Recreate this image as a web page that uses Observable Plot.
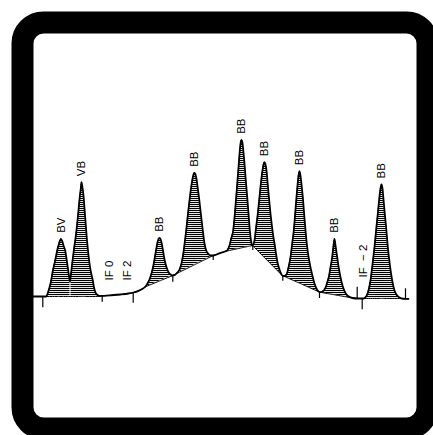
<!DOCTYPE html>
<html>
<head>
<meta charset="utf-8">
<script src="https://cdn.jsdelivr.net/npm/d3@7"></script>
<script src="https://cdn.jsdelivr.net/npm/@observablehq/plot@0.6"></script>
<style>
  html, body { margin: 0; padding: 0; background: #fff; }
  #chart svg { display: block; background: #fff; }
</style>
</head>
<body>
<div id="chart"></div>
<script>
// Retention time (s) of each detector sample, detector response, and integrator baseline
const traceTime = [
  0, 11,
  12.7, 14.5, 16, 17.5, 19, 21, 22.5, 23.7, 25, 26.3, 27.5, 28.7, 30, 31.7, 33.7, 35, 36.5,
  37.2, 38.7, 40.3, 42, 43.5, 45, 46.3, 47.3, 48, 48.8, 50, 51, 52.3, 53.5, 54.5, 56, 57.5, 59.3, 60.5, 62, 64, 66,
  68.7, 77, 87, 95, 100, 105, 109,
  111.5, 114, 116, 118, 119.5, 121, 122.5, 124, 125, 126, 127, 128, 129.5, 131, 132.5, 134, 135.5, 137.3, 139.3,
  144, 146, 148, 149.5, 151, 152.7, 154.5, 156, 157.5, 159, 160, 161, 162, 163, 164.3, 165.5, 167.3, 169.3, 171, 172.7, 174.5, 176.5, 179.7,
  186, 192,
  194, 196, 197.7, 199.7, 201.3, 202.7, 204, 205.3, 206.5, 207.3, 208, 208.8, 209.8, 211, 212.3, 213.7, 215, 216.3, 217.5, 219,
  221, 222.7, 224.3, 226, 227.7, 229, 230, 231, 232, 233, 233.9, 235.4, 237, 238.5, 239.8, 241, 242.5, 244, 245.5, 247, 248.7,
  251, 253, 255, 257, 258.7, 260.3, 261.7, 263, 264.2, 265.2, 266, 266.8, 267.9, 269.3, 270.6, 272, 273.5, 275, 276.3, 278.5, 281, 283.5, 286.3,
  288.5, 290.3, 292.5, 294, 295.3, 296.8, 298.7, 300, 301, 302, 303.7, 305.2, 307, 309, 311, 313, 315.3, 319,
  324, 329,
  330, 333, 335, 337, 339, 341, 342.7, 344.3, 345.7, 347, 348, 349, 350, 351.3, 352.8, 354.3, 356.3, 358.7, 361, 363.7, 366, 368,
  372, 375
];
const traceSignal = [
  0, 0,
  0, 4, 9, 15, 24, 33, 40, 46, 51, 55.5, 57.7, 55.5, 51, 46, 33, 24, 15,
  20, 33, 46, 58, 71, 86, 100, 108, 114.3, 110, 101, 88, 71, 56, 46, 33, 24, 16, 9, 4, 1.5, 0.5,
  0.7, 1.2, 2, 3, 4, 5.7, 7.7,
  9.5, 13, 17, 23, 29, 37, 46, 54, 57.5, 58.7, 57.5, 54, 46, 37, 31, 26.5, 23.5, 21.7, 21,
  24, 27, 33, 41, 52, 66, 83, 96, 108, 117.5, 122, 123.7, 122, 117.5, 108, 99, 83, 66, 53, 46, 43, 41.2, 41,
  43.2, 45.2,
  46.5, 51, 58, 66, 82, 99.3, 116, 132.7, 148, 154.5, 156.7, 154.5, 146, 132.7, 116, 99.3, 83, 66, 56, 51,
  56, 70, 82.7, 99.3, 116, 126, 132, 134.3, 132, 126, 116, 99.3, 82.7, 70, 60, 53, 43, 34, 28.5, 24.2, 21,
  20.5, 22, 29, 39.3, 53, 66, 83, 99.3, 113, 122, 125.3, 122, 113, 99.3, 83, 66, 51, 40, 32.7, 22.5, 13, 7, 4.3,
  4.7, 6, 10, 15, 19.3, 28, 39.3, 51, 57.7, 51, 39.3, 29, 19.3, 11, 5.5, 2, 0, -1.5,
  -2, -2,
  -2, 0.5, 6, 16, 32, 49.3, 67, 82.7, 97, 108, 112, 108, 97, 82.7, 67, 49.3, 32, 16, 6, 1, -1, -2,
  -2.3, -2.3
];
const traceBaseline = [
  0, 0,
  0, 0, 0, 0, 0, 0, 0, 0, 0, 0, 0, 0, 0, 0, 0, 0, 0,
  0, 0, 0, 0, 0, 0, 0, 0, 0, 0, 0, 0, 0, 0, 0, 0, 0, 0, 0, 0, 0, 0.5,
  0.7, 1.2, 2, 3, 4, 5.7, 7.7,
  9.5, 10.53, 11.36, 12.19, 12.81, 13.43, 14.05, 14.67, 15.08, 15.5, 15.91, 16.33, 16.95, 17.57, 18.19, 18.81, 19.43, 20.17, 21,
  23.33, 24.32, 25.31, 26.05, 26.8, 27.64, 28.53, 29.27, 30.01, 30.76, 31.25, 31.75, 32.24, 32.74, 33.38, 33.97, 34.87, 35.86, 36.7, 37.54, 38.43, 39.42, 41,
  43.2, 45.2,
  45.63, 46.06, 46.42, 46.85, 47.2, 47.5, 47.78, 48.06, 48.31, 48.48, 48.64, 48.81, 49.02, 49.28, 49.56, 49.86, 50.14, 50.42, 50.67, 51,
  48.98, 47.26, 45.65, 43.93, 42.21, 40.9, 39.89, 38.88, 37.87, 36.86, 35.95, 34.43, 32.82, 31.3, 29.98, 28.77, 27.25, 25.74, 24.23, 22.72, 21,
  19.98, 19.09, 18.2, 17.31, 16.56, 15.85, 15.23, 14.65, 14.11, 13.67, 13.32, 12.96, 12.47, 11.85, 11.27, 10.65, 9.99, 9.32, 8.74, 7.77, 6.66, 5.54, 4.3,
  3.91, 3.59, 3.2, 2.93, 2.7, 2.44, 2.1, 1.87, 1.69, 1.51, 1.21, 0.95, 0.63, 0.27, -0.08, -0.44, -0.84, -1.5,
  -2, -2,
  -2, -2, -2, -2, -2, -2, -2, -2, -2, -2, -2, -2, -2, -2, -2, -2, -2, -2, -2, -2, -2, -2,
  -2.3, -2.3
];

// Peaks: apex time, apex response, integrator baseline code
const peakTime   = [27.5, 48, 126, 161, 208, 231, 266, 301, 348];
const peakHeight = [57.7, 114.3, 58.7, 123.7, 156.7, 134.3, 125.3, 57.7, 112];
const peakCode   = ["BV", "VB", "BB", "BB", "BB", "BB", "BB", "BB", "BB"];

// Valley drop line between the fused BV / VB pair
const dropTime  = [36.5];
const dropLevel = [15];

// Integrator function events
const eventTime  = [76, 94, 330];
const eventLevel = [16, 16, 19];
const eventText  = ["IF 0", "IF 2", "IF\u00a0\u00a0\u2212\u00a02"];

// Integrator tick marks: time, upper and lower response
const tickTime   = [9.3, 68.7, 99.7, 139.3, 179.7, 219.3, 249.3, 286, 323.7, 328.7, 372];
const tickTop    = [0, 0.7, 3.5, 21, 41, 51, 21, 4.3, 9.3, -2, 7.7];
const tickBottom = [-11.3, -5.7, -6.7, 14.3, 36, 46, 15.3, -2, -2, -13.3, -2.3];

const trace = traceTime.map((t, i) => ({t, s: traceSignal[i], b: traceBaseline[i]}));
const peaks = peakTime.map((t, i) => ({t, h: peakHeight[i], code: peakCode[i]}));
const drops = dropTime.map((t, i) => ({t, top: dropLevel[i]}));
const events = eventTime.map((t, i) => ({t, y: eventLevel[i], text: eventText[i]}));
const ticks = tickTime.map((t, i) => ({t, top: tickTop[i], bottom: tickBottom[i]}));

const font = "'Liberation Sans', Arial, Helvetica, sans-serif";

const chart = Plot.plot({
  width: 433,
  height: 435,
  margin: 0,
  style: {background: "#fff", fontFamily: font},
  x: {domain: [0, 375], range: [33, 408], axis: null},
  y: {domain: [0, 263], range: [296, 33], axis: null},
  marks: [
    Plot.area(trace, {x1: "t", y1: "b", y2: "s", fill: "url(#hatch)", curve: "monotone-x"}),
    Plot.ruleX(drops, {x: "t", y1: 0, y2: "top", stroke: "#fff", strokeWidth: 1}),
    Plot.line(trace, {x: "t", y: "b", stroke: "#000", strokeWidth: 1, curve: "monotone-x"}),
    Plot.line(trace, {x: "t", y: "s", stroke: "#000", strokeWidth: 1.8, curve: "monotone-x"}),
    Plot.ruleX(ticks, {x: "t", y1: "top", y2: "bottom", stroke: "#000", strokeWidth: 1.2}),
    Plot.text(peaks, {x: "t", y: "h", text: "code", rotate: -90, textAnchor: "start", dy: -6,
      fontSize: 11.5, fill: "#000", fontFamily: font}),
    Plot.text(events, {x: "t", y: "y", text: "text", rotate: -90, textAnchor: "start",
      fontSize: 11.5, fill: "#000", fontFamily: font}),
    Plot.frame({stroke: "#000", strokeWidth: 22, rx: 21, fill: "none",
      insetLeft: 22, insetTop: 22, insetRight: 6, insetBottom: 7})
  ]
});

// Horizontal hatching pattern for the integrated peak areas
const ns = "http://www.w3.org/2000/svg";
const defs = document.createElementNS(ns, "defs");
const pat = document.createElementNS(ns, "pattern");
pat.setAttribute("id", "hatch");
pat.setAttribute("patternUnits", "userSpaceOnUse");
pat.setAttribute("width", "4");
pat.setAttribute("height", "2");
const bg = document.createElementNS(ns, "rect");
bg.setAttribute("width", "4"); bg.setAttribute("height", "2"); bg.setAttribute("fill", "#fff");
const ln = document.createElementNS(ns, "rect");
ln.setAttribute("y", "0"); ln.setAttribute("width", "4"); ln.setAttribute("height", "1.1"); ln.setAttribute("fill", "#000");
pat.appendChild(bg); pat.appendChild(ln);
defs.appendChild(pat);
chart.insertBefore(defs, chart.firstChild);

document.getElementById("chart").appendChild(chart);
</script>
</body>
</html>
